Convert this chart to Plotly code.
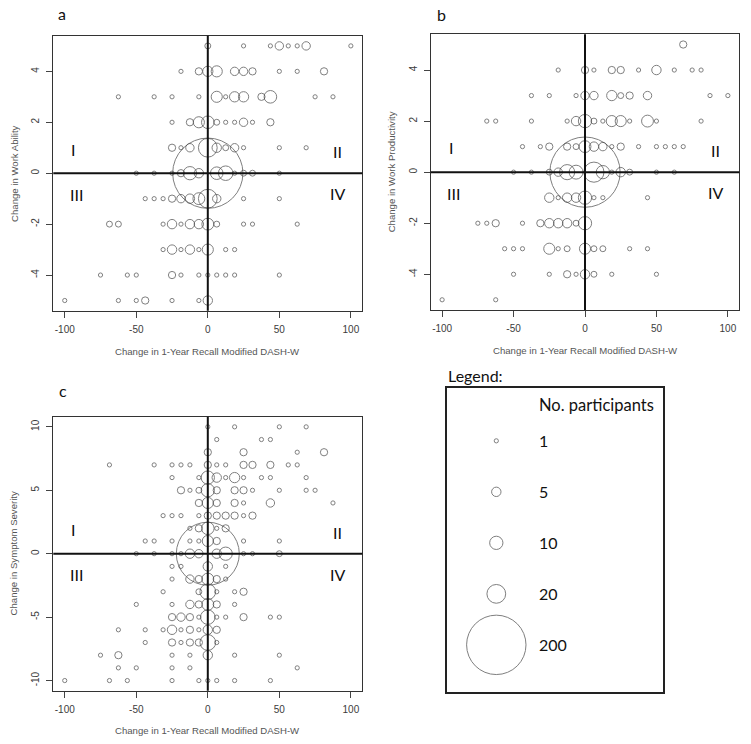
import math
import plotly.graph_objects as go

# ---------------- data (x = change in DASH-W, y = change in outcome, n = participants) ----------------
A_ROW_Y = [5, 4, 3, 2, 1, 0, -1, -2, -3, -4, -5]
A_ROW_X = [
    [0, 25, 43.75, 50, 56.25, 62.5, 68.75, 100],
    [-18.75, -6.25, 0, 6.25, 18.75, 25, 31.25, 50, 62.5, 81.25],
    [-62.5, -37.5, -25, -6.25, 6.25, 12.5, 18.75, 25, 37.5, 43.75, 75, 87.5],
    [-25, -12.5, -6.25, 0, 6.25, 12.5, 18.75, 25, 31.25, 43.75],
    [-25, -18.75, -12.5, 0, 6.25, 12.5, 18.75, 25, 50, 68.75],
    [-50, -37.5, -25, -18.75, -12.5, -6.25, 0, 6.25, 12.5, 18.75, 25, 31.25, 50],
    [-43.75, -37.5, -31.25, -25, -18.75, -12.5, -6.25, 0, 6.25, 25, 50],
    [-68.75, -62.5, -31.25, -25, -18.75, -12.5, -6.25, 0, 6.25, 25, 31.25, 62.5],
    [-31.25, -25, -18.75, -12.5, -6.25, 0, 12.5, 18.75],
    [-75, -56.25, -50, -25, -18.75, -6.25, 0, 6.25, 12.5, 18.75, 50],
    [-100, -62.5, -50, -43.75, -25, -6.25, 0],
]
A_ROW_N = [
    [2, 1, 1, 4, 1, 1, 4, 1],
    [1, 3, 6, 7, 4, 4, 3, 1, 1, 3],
    [1, 1, 1, 1, 7, 1, 6, 6, 3, 9, 1, 1],
    [1, 3, 7, 9, 2, 1, 1, 4, 1, 3],
    [3, 1, 4, 20, 5, 2, 4, 1, 1, 1],
    [1, 1, 1, 3, 10, 5, 280, 9, 12, 1, 2, 2, 1],
    [1, 1, 1, 3, 4, 5, 8, 20, 4, 1, 1],
    [2, 2, 1, 5, 1, 5, 5, 8, 2, 1, 1, 1],
    [1, 5, 1, 5, 1, 7, 1, 1],
    [1, 1, 1, 3, 1, 1, 1, 1, 1, 1, 1],
    [1, 1, 1, 3, 1, 1, 5],
]

B_ROW_Y = [5, 4, 3, 2, 1, 0, -1, -2, -3, -4, -5]
B_ROW_X = [
    [68.75],
    [-18.75, 0, 6.25, 18.75, 25, 37.5, 50, 62.5, 75, 81.25],
    [-37.5, -25, -6.25, 0, 6.25, 18.75, 25, 31.25, 43.75, 87.5, 100],
    [-68.75, -62.5, -37.5, -12.5, -6.25, 0, 6.25, 12.5, 18.75, 25, 31.25, 43.75, 50, 81.25],
    [-43.75, -31.25, -25, -12.5, -6.25, 0, 6.25, 12.5, 18.75, 25, 37.5, 50, 56.25, 62.5, 68.75],
    [-50, -37.5, -25, -18.75, -12.5, -6.25, 0, 6.25, 12.5, 18.75, 25, 31.25, 50, 62.5],
    [-25, -18.75, -12.5, -6.25, 0, 6.25, 12.5, 43.75],
    [-75, -68.75, -62.5, -43.75, -31.25, -25, -18.75, -12.5, -6.25, 0],
    [-56.25, -50, -43.75, -25, -18.75, -12.5, 0, 6.25, 12.5, 31.25, 43.75],
    [-50, -25, -12.5, -6.25, 0, 6.25, 18.75, 50],
    [-100, -62.5],
]
B_ROW_N = [
    [3],
    [1, 3, 1, 3, 3, 1, 5, 1, 1, 1],
    [1, 1, 1, 4, 4, 6, 2, 3, 4, 1, 1],
    [1, 1, 1, 1, 5, 10, 2, 1, 7, 7, 1, 8, 1, 1],
    [1, 1, 3, 3, 2, 8, 5, 4, 1, 3, 1, 1, 1, 1, 1],
    [1, 1, 2, 4, 13, 11, 280, 23, 10, 1, 5, 2, 1, 1],
    [5, 1, 5, 5, 10, 1, 1, 1],
    [1, 1, 3, 1, 3, 5, 5, 5, 2, 10],
    [1, 1, 1, 7, 1, 2, 7, 2, 2, 1, 1],
    [1, 1, 3, 1, 5, 2, 1, 1],
    [1, 1],
]

C_ROW_Y = [10, 9, 8, 7, 6, 5, 4, 3, 2, 1, 0, -1, -2, -3, -4, -5, -6, -7, -8, -9, -10]
C_ROW_X = [
    [0, 18.75, 50, 68.75],
    [6.25, 37.5, 43.75],
    [0, 25, 62.5, 81.25],
    [-68.75, -37.5, -25, -18.75, -12.5, 0, 6.25, 12.5, 25, 31.25, 43.75, 56.25, 62.5],
    [-25, -6.25, 0, 6.25, 12.5, 18.75, 25, 37.5, 43.75, 68.75],
    [-18.75, -12.5, -6.25, 0, 6.25, 18.75, 25, 31.25, 50, 68.75, 75],
    [-6.25, 0, 6.25, 18.75, 25, 43.75, 87.5],
    [-31.25, -25, -18.75, -6.25, 0, 6.25, 12.5, 18.75, 25, 31.25],
    [-12.5, -6.25, 0, 6.25, 12.5],
    [-43.75, -37.5, -25, -12.5, -6.25, 0, 6.25, 25, 50],
    [-50, -37.5, -25, -18.75, -12.5, -6.25, 0, 6.25, 12.5, 25, 31.25, 50],
    [-25, -18.75, 0, 12.5],
    [-25, -12.5, -6.25, 0, 6.25, 12.5],
    [-31.25, -6.25, 0, 6.25, 18.75, 25],
    [-50, -25, -12.5, -6.25, 0, 6.25, 18.75],
    [-25, -18.75, -12.5, -6.25, 0, 6.25, 12.5, 25, 43.75, 50],
    [-62.5, -43.75, -31.25, -25, -18.75, -12.5, -6.25, 0, 6.25],
    [-43.75, -25, -18.75, -12.5, -6.25, 0, 6.25],
    [-75, -62.5, -25, -12.5, 0, 18.75, 50],
    [-62.5, -50, -25, -12.5, 62.5],
    [-100, -68.75, -56.25, -25, -6.25, 0, 6.25, 18.75, 43.75],
]
C_ROW_N = [
    [1, 1, 1, 1],
    [1, 1, 1],
    [3, 3, 1, 3],
    [1, 1, 1, 1, 1, 3, 1, 1, 3, 3, 3, 1, 1],
    [1, 1, 10, 5, 1, 6, 1, 1, 1, 1],
    [3, 1, 2, 10, 3, 3, 3, 1, 1, 1, 1],
    [3, 7, 3, 3, 1, 4, 1],
    [1, 1, 1, 1, 3, 3, 3, 3, 1, 3],
    [1, 3, 9, 1, 3],
    [1, 1, 1, 1, 1, 7, 3, 1, 1],
    [1, 1, 1, 1, 5, 4, 225, 5, 10, 1, 1, 2],
    [1, 1, 5, 1],
    [1, 4, 3, 8, 3, 1],
    [1, 2, 14, 1, 1, 3],
    [1, 1, 4, 3, 8, 3, 1],
    [3, 4, 3, 1, 12, 1, 1, 3, 1, 1],
    [1, 1, 1, 5, 1, 3, 1, 5, 3],
    [1, 3, 1, 3, 3, 14, 1],
    [1, 3, 1, 1, 5, 1, 1],
    [1, 1, 1, 1, 1],
    [1, 1, 1, 1, 1, 1, 1, 1, 1],
]

X_TICKS = [-100, -50, 0, 50, 100]
X_TICK_TEXT = ["-100", "-50", "0", "50", "100"]
AB_Y_TICKS = [-4, -2, 0, 2, 4]
AB_Y_TICK_TEXT = ["-4", "-2", "0", "2", "4"]
C_Y_TICKS = [-10, -5, 0, 5, 10]
C_Y_TICK_TEXT = ["-10", "-5", "0", "5", "10"]

X_TITLE = "Change in 1-Year Recall Modified DASH-W"
Y_TITLES = ["Change in Work Ability", "Change in Work Productivity", "Change in Symptom Severity"]
PANEL_LETTERS = ["a", "b", "c"]
QUADRANTS = ["I", "II", "III", "IV"]

LEGEND_COUNTS = [1, 5, 10, 20, 200]
LEGEND_LABELS = ["1", "5", "10", "20", "200"]

# ---------------- helpers ----------------
SIZE_K = 4.2  # px diameter per sqrt(participant)
CIRCLE_COLOR = "#4a4a4a"


def flatten(row_y, row_x, row_n):
    xs, ys, ns = [], [], []
    for y, xr, nr in zip(row_y, row_x, row_n):
        for x, n in zip(xr, nr):
            xs.append(x)
            ys.append(y)
            ns.append(n)
    return xs, ys, ns


def bubble_trace(xs, ys, ns, xa, ya):
    return go.Scatter(
        x=xs, y=ys, mode="markers", xaxis=xa, yaxis=ya,
        marker=dict(size=[SIZE_K * math.sqrt(n) for n in ns], sizemode="diameter",
                    color="rgba(0,0,0,0)", line=dict(color=CIRCLE_COLOR, width=1)),
        hoverinfo="x+y+text", text=[str(n) for n in ns], showlegend=False,
    )


fig = go.Figure()
panels = [
    (A_ROW_Y, A_ROW_X, A_ROW_N, "x", "y"),
    (B_ROW_Y, B_ROW_X, B_ROW_N, "x2", "y2"),
    (C_ROW_Y, C_ROW_X, C_ROW_N, "x3", "y3"),
]
for ry, rx, rn, xa, ya in panels:
    xs, ys, ns = flatten(ry, rx, rn)
    fig.add_trace(bubble_trace(xs, ys, ns, xa, ya))

# legend circles
leg_idx = list(range(len(LEGEND_COUNTS)))
fig.add_trace(go.Scatter(
    x=[0.229] * len(LEGEND_COUNTS), y=leg_idx, mode="markers", xaxis="x4", yaxis="y4",
    marker=dict(size=[SIZE_K * math.sqrt(n) for n in LEGEND_COUNTS], sizemode="diameter",
                color="rgba(0,0,0,0)", line=dict(color=CIRCLE_COLOR, width=1)),
    hoverinfo="skip", showlegend=False,
))

TICK_FONT = dict(family="Liberation Sans, Arial, sans-serif", size=10, color="#3c3c3c")
TITLE_FONT = dict(family="Liberation Sans, Arial, sans-serif", size=9.6, color="#555555")
CAL_FONT = "Lato, Open Sans, sans-serif"


def xaxis(domain, anchor):
    return dict(domain=domain, anchor=anchor, range=[-108, 108], tickmode="array",
                tickvals=X_TICKS, ticktext=X_TICK_TEXT, ticks="outside", ticklen=6,
                tickcolor="#444", tickwidth=1, showline=True, mirror=True, linecolor="#333",
                linewidth=1, showgrid=False, zeroline=False, tickfont=TICK_FONT,
                ticklabelstandoff=3, fixedrange=True)


def yaxis(domain, anchor, rng, tv, tt):
    return dict(domain=domain, anchor=anchor, range=rng, tickmode="array",
                tickvals=tv, ticktext=tt, ticks="outside", ticklen=6, tickangle=-90,
                tickcolor="#444", tickwidth=1, showline=True, mirror=True, linecolor="#333",
                linewidth=1, showgrid=False, zeroline=False, tickfont=TICK_FONT,
                ticklabelstandoff=3, fixedrange=True)


W, H = 751, 744
dom_a_x = [53.3 / W, 362.3 / W]
dom_a_y = [1 - 310.7 / H, 1 - 35.7 / H]
dom_b_x = [430.7 / W, 739.3 / W]
dom_b_y = [1 - 310.0 / H, 1 - 34.3 / H]
dom_c_x = [53.3 / W, 362.3 / W]
dom_c_y = [1 - 690.7 / H, 1 - 416.7 / H]
dom_l_x = [446.7 / W, 663.3 / W]
dom_l_y = [1 - 692.3 / H, 1 - 388.3 / H]

fig.update_layout(
    width=W, height=H, margin=dict(l=0, r=0, t=0, b=0),
    paper_bgcolor="white", plot_bgcolor="white", showlegend=False,
    xaxis=xaxis(dom_a_x, "y"),
    yaxis=yaxis(dom_a_y, "x", [-5.4, 5.4], AB_Y_TICKS, AB_Y_TICK_TEXT),
    xaxis2=xaxis(dom_b_x, "y2"),
    yaxis2=yaxis(dom_b_y, "x2", [-5.4, 5.4], AB_Y_TICKS, AB_Y_TICK_TEXT),
    xaxis3=xaxis(dom_c_x, "y3"),
    yaxis3=yaxis(dom_c_y, "x3", [-10.8, 10.8], C_Y_TICKS, C_Y_TICK_TEXT),
    xaxis4=dict(domain=dom_l_x, anchor="y4", range=[0, 1], showticklabels=False, ticks="",
                showgrid=False, zeroline=False, showline=True, mirror=True,
                linecolor="#222", linewidth=1.5, fixedrange=True),
    yaxis4=dict(domain=dom_l_y, anchor="x4", range=[4.93, -1.03], showticklabels=False,
                ticks="", showgrid=False, zeroline=False, showline=True, mirror=True,
                linecolor="#222", linewidth=1.5, fixedrange=True),
)

shapes = []
annotations = []
for i, (xa, ya) in enumerate([("x", "y"), ("x2", "y2"), ("x3", "y3")]):
    # quadrant dividing lines
    shapes.append(dict(type="line", xref=f"{xa} domain", yref=ya, x0=0, x1=1, y0=0, y1=0,
                       line=dict(color="#111", width=2), layer="above"))
    shapes.append(dict(type="line", xref=xa, yref=f"{ya} domain", x0=0, x1=0, y0=0, y1=1,
                       line=dict(color="#111", width=2), layer="above"))
    annotations.append(dict(text=X_TITLE, xref=f"{xa} domain", yref=f"{ya} domain",
                            x=0.5, y=-0.147, xanchor="center", yanchor="middle",
                            showarrow=False, font=TITLE_FONT))
    annotations.append(dict(text=Y_TITLES[i], xref=f"{xa} domain", yref=f"{ya} domain",
                            x=-0.128, y=0.5, xanchor="center", yanchor="middle", textangle=-90,
                            showarrow=False, font=TITLE_FONT))
    ymul = 2 if i == 2 else 1
    qpos = [(-94, 0.95), (91, 0.85), (-92, -0.82), (91, -0.8)]
    for q, (qx, qy) in zip(QUADRANTS, qpos):
        annotations.append(dict(text=q, xref=xa, yref=ya, x=qx, y=qy * ymul,
                                xanchor="center", yanchor="middle", showarrow=False,
                                font=dict(family=CAL_FONT, size=16, color="#111")))

letter_pos = [(62 / W, 1 - 14 / H), (441.7 / W, 1 - 15 / H), (63 / W, 1 - 390 / H)]
for L, (lx, ly) in zip(PANEL_LETTERS, letter_pos):
    annotations.append(dict(text=L, xref="paper", yref="paper", x=lx, y=ly,
                            xanchor="center", yanchor="middle", showarrow=False,
                            font=dict(family=CAL_FONT, size=16, color="#111")))

annotations.append(dict(text="Legend:", xref="paper", yref="paper", x=446 / W, y=1 - 375 / H,
                        xanchor="left", yanchor="middle", showarrow=False,
                        font=dict(family=CAL_FONT, size=16, color="#111")))
annotations.append(dict(text="No. participants", xref="x4", yref="y4", x=0.415, y=-0.7,
                        xanchor="left", yanchor="middle", showarrow=False,
                        font=dict(family=CAL_FONT, size=16.5, color="#111")))
for idx, lab in zip(leg_idx, LEGEND_LABELS):
    annotations.append(dict(text=lab, xref="x4", yref="y4", x=0.415, y=idx,
                            xanchor="left", yanchor="middle", showarrow=False,
                            font=dict(family=CAL_FONT, size=16, color="#111")))

fig.update_layout(shapes=shapes, annotations=annotations)
fig.write_html(
    "out.html",
    config={"displayModeBar": False},
    post_script="document.body.style.margin='0';document.body.style.padding='0';"
                "document.body.style.overflow='hidden';",
)
